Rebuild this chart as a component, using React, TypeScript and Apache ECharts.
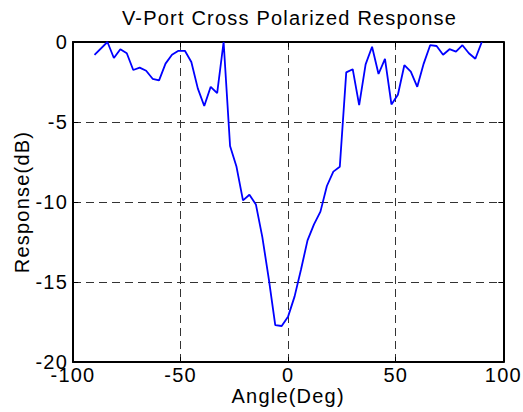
import React, { useEffect, useRef } from "react";
import * as echarts from "echarts";

const titleText = "V-Port Cross Polarized Response";
const xName = "Angle(Deg)";
const yName = "Response(dB)";

const angles = [
  -90, -84, -81, -78, -75, -72, -69, -66, -63, -60, -57, -54, -51, -48, -45, -42, -39, -36, -33, -30,
  -27, -24, -21, -18, -15, -12, -9, -6, -3, 0, 3, 6, 9, 12, 15, 18, 21, 24, 27, 30,
  33, 36, 39, 42, 45, 48, 51, 54, 57, 60, 63, 66, 69, 72, 75, 78, 81, 84, 87, 90,
];
const response = [
  -0.8, 0, -1.0, -0.45, -0.7, -1.75, -1.6, -1.8, -2.3, -2.4, -1.35, -0.8, -0.55, -0.55, -1.25, -2.9, -4.0, -2.8, -3.2, 0,
  -6.5, -7.8, -9.9, -9.55, -10.15, -12.2, -14.8, -17.7, -17.75, -17.15, -15.9, -14.2, -12.4, -11.4, -10.6, -9.0, -8.1, -7.8, -1.9, -1.7,
  -3.95, -1.4, -0.3, -2.0, -1.05, -3.9, -3.3, -1.45, -1.85, -2.8, -1.35, -0.2, -0.25, -0.8, -0.45, -0.6, -0.2, -0.7, -1.05, 0,
];

const FONT = "'Liberation Sans', Arial, sans-serif";

export default function App() {
  const ref = useRef<HTMLDivElement>(null);
  useEffect(() => {
    if (!ref.current) return;
    const chart = echarts.init(ref.current, undefined, { renderer: "svg" });
    const dash = { color: "#333", width: 1, type: [8, 5] as number[] };
    const axisLine = { show: true, onZero: false, lineStyle: { color: "#000", width: 2 } };
    const tick = { show: true, inside: true, length: 5, lineStyle: { color: "#000", width: 1 } };
    chart.setOption({
      animation: false,
      backgroundColor: "#fff",
      graphic: [
        {
          type: "text",
          x: 289.5,
          y: 8,
          style: {
            text: titleText,
            fontFamily: FONT,
            fontSize: 20,
            fill: "#000",
            textAlign: "center",
            textVerticalAlign: "top",
          },
        },
      ],
      grid: { left: 73, right: 17, top: 42, bottom: 50, containLabel: false },
      xAxis: [
        {
          type: "value",
          min: -100,
          max: 100,
          interval: 50,
          name: xName,
          nameLocation: "middle",
          nameGap: 24,
          nameMoveOverlap: false,
          nameTextStyle: { fontFamily: FONT, fontSize: 20, color: "#000" },
          axisLine,
          axisTick: tick,
          axisLabel: { fontFamily: FONT, fontSize: 20, color: "#000", margin: 3 },
          splitLine: { show: true, lineStyle: dash },
        },
        {
          type: "value",
          position: "top",
          min: -100,
          max: 100,
          interval: 50,
          axisLine,
          axisTick: tick,
          axisLabel: { show: false },
          splitLine: { show: false },
        },
      ],
      yAxis: [
        {
          type: "value",
          min: -20,
          max: 0,
          interval: 5,
          name: yName,
          nameLocation: "middle",
          nameGap: 41,
          nameMoveOverlap: false,
          nameTextStyle: { fontFamily: FONT, fontSize: 20, color: "#000" },
          axisLine,
          axisTick: tick,
          axisLabel: { fontFamily: FONT, fontSize: 20, color: "#000", margin: 5 },
          splitLine: { show: true, lineStyle: dash },
        },
        {
          type: "value",
          position: "right",
          min: -20,
          max: 0,
          interval: 5,
          axisLine,
          axisTick: tick,
          axisLabel: { show: false },
          splitLine: { show: false },
        },
      ],
      series: [
        {
          type: "line",
          data: angles.map((a, i) => [a, response[i]]),
          showSymbol: false,
          symbol: "none",
          lineStyle: { color: "#0000ff", width: 1.8 },
          clip: true,
        },
      ],
    });
    return () => chart.dispose();
  }, []);
  return (
    <div
      ref={ref}
      style={{ position: "absolute", left: 0, top: 0, width: 523, height: 412, letterSpacing: "1.2px" }}
    />
  );
}
